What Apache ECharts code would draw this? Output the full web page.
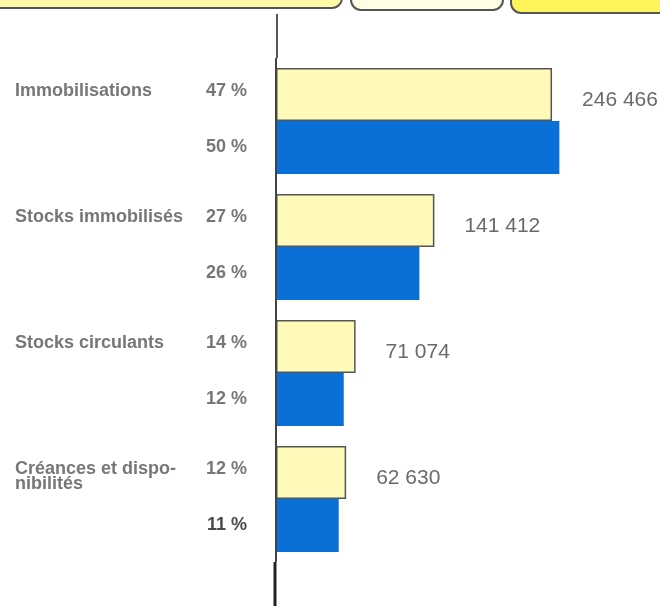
<!DOCTYPE html>
<html>
<head>
<meta charset="utf-8">
<script src="https://cdn.jsdelivr.net/npm/echarts@6/dist/echarts.min.js"></script>
<style>html,body{margin:0;padding:0;background:#fff}#c{width:660px;height:611px}</style>
</head>
<body>
<div id="c"></div>
<script>
var categories = ['Immobilisations', 'Stocks immobilisés', 'Stocks circulants', 'Créances et dispo-\nnibilités'];
var yellowValues = [246466, 141412, 71074, 62630];
var blueValues = [253000, 128000, 60500, 56000];
var yellowPct = ['47 %', '27 %', '14 %', '12 %'];
var bluePct = ['50 %', '26 %', '12 %', '11 %'];

function fmtNum(v) { return String(v).replace(/\B(?=(\d{3})+(?!\d))/g, ' '); }

var chart = echarts.init(document.getElementById('c'), null, {renderer: 'canvas'});
var FONT = '"Liberation Sans", Arial, sans-serif';
chart.setOption({
  animation: false,
  backgroundColor: '#ffffff',
  grid: {left: 276, right: 48, top: 58, bottom: 49},
  xAxis: {type: 'value', min: 0, max: 300000, show: false},
  yAxis: {
    type: 'category', inverse: true, data: categories,
    axisLine: {show: false}, axisTick: {show: false}, splitLine: {show: false},
    axisLabel: {
      align: 'left', margin: 261, verticalAlign: 'middle',
      formatter: function (v, i) {
        var parts = v.split('\n');
        var s = '{n|' + parts[0] + '}{p|' + yellowPct[i] + '}';
        var lines = 1;
        for (var k = 1; k < parts.length; k++) { s += '\n{n|' + parts[k] + '}'; lines++; }
        while (lines < 5) { s += '\n{s| }'; lines++; }
        return s;
      },
      rich: {
        n: {width: 185, align: 'left', fontFamily: FONT, fontWeight: 'bold', fontSize: 18, color: '#777777', lineHeight: 15},
        p: {width: 47, align: 'right', fontFamily: FONT, fontWeight: 'bold', fontSize: 18, color: '#777777', lineHeight: 15},
        s: {fontSize: 10, lineHeight: 15}
      }
    }
  },
  series: [
    {
      type: 'bar', barWidth: 53, barGap: '0%',
      data: yellowValues,
      itemStyle: {color: '#FFFAB9', borderColor: '#555555', borderWidth: 1.5},
      label: {
        show: true, position: 'right', distance: 30, offset: [0, 6],
        formatter: function (p) { return fmtNum(yellowValues[p.dataIndex]); },
        fontFamily: FONT, fontSize: 21, color: '#6a6a6a'
      }
    },
    {
      type: 'bar', barWidth: 53, barGap: '0%',
      data: blueValues.map(function (v, i) {
        return i === bluePct.length - 1 ? {value: v, label: {color: '#4a4a4a'}} : v;
      }),
      itemStyle: {color: '#0A6FD6'},
      label: {
        show: true, position: 'left', distance: 29,
        formatter: function (p) { return bluePct[p.dataIndex]; },
        fontFamily: FONT, fontWeight: 'bold', fontSize: 18, color: '#777777'
      }
    }
  ],
  graphic: [
    {type: 'rect', shape: {x: -20, y: -40, width: 362, height: 48, r: 10}, style: {fill: '#FFF9A8', stroke: '#555', lineWidth: 2}},
    {type: 'rect', shape: {x: 351, y: -40, width: 152, height: 50, r: 10}, style: {fill: '#FFFDE6', stroke: '#555', lineWidth: 2}},
    {type: 'rect', shape: {x: 511, y: -40, width: 170, height: 53, r: 10}, style: {fill: '#FFF45C', stroke: '#555', lineWidth: 2}},
    {type: 'line', shape: {x1: 277, y1: 14, x2: 277, y2: 58}, style: {stroke: '#555', lineWidth: 2}, z: 10},
    {type: 'line', shape: {x1: 276, y1: 58, x2: 276, y2: 562}, style: {stroke: '#444', lineWidth: 2}, z: 10},
    {type: 'line', shape: {x1: 275, y1: 562, x2: 275, y2: 606}, style: {stroke: '#222', lineWidth: 3}, z: 10}
  ]
});
</script>
</body>
</html>
